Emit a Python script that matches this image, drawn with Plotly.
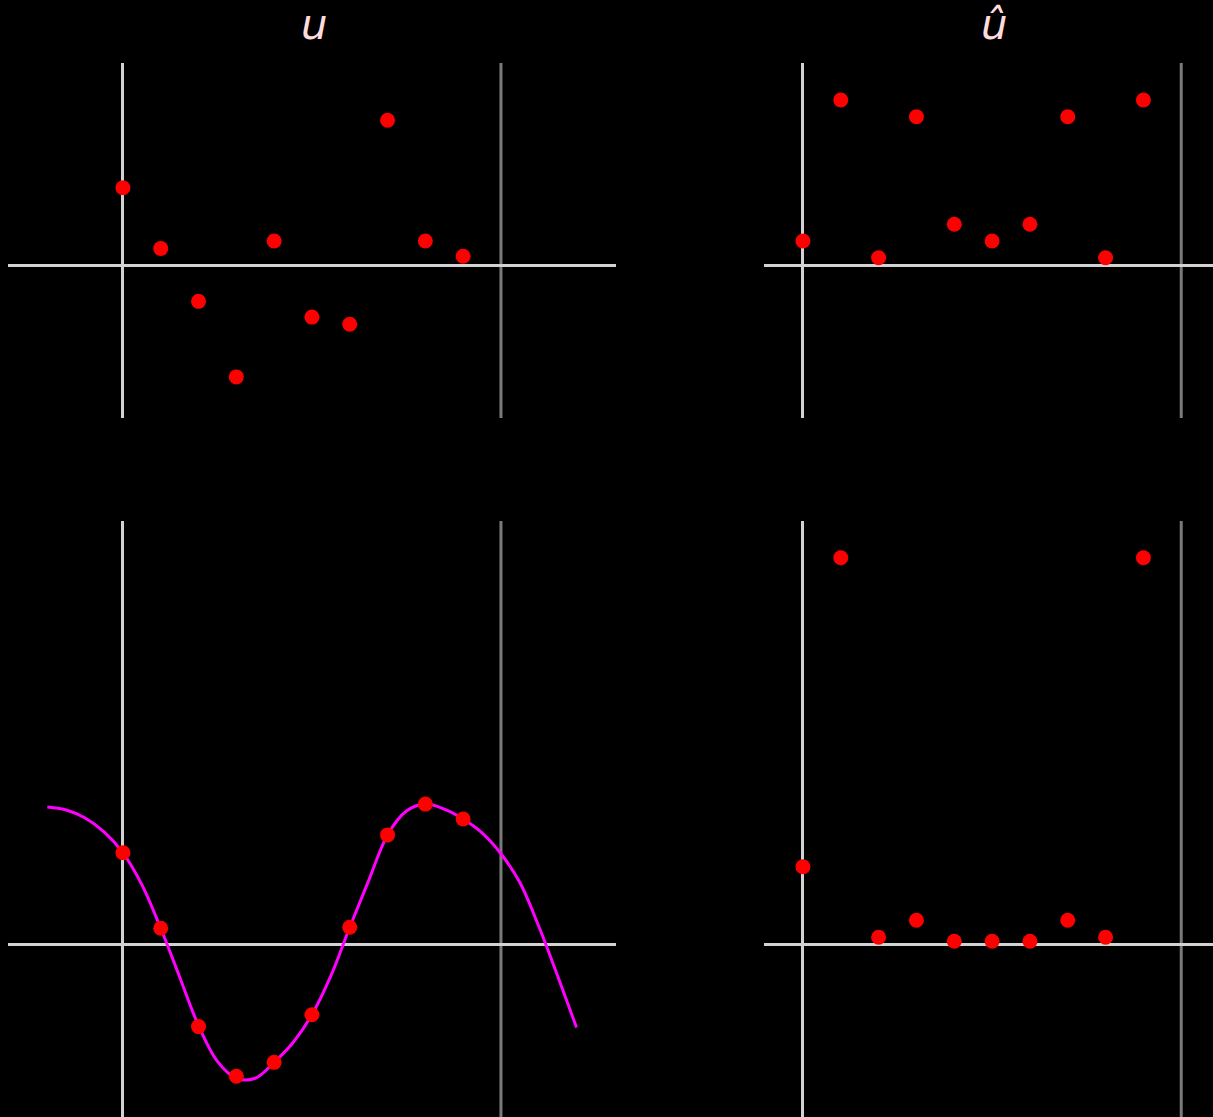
import plotly.graph_objects as go
from plotly.subplots import make_subplots

# sample index / frequency index
n = [0, 1, 2, 3, 4, 5, 6, 7, 8, 9]

# top row: samples u and |u_hat|
u_top = [1.54, 0.34, -0.70, -2.19, 0.49, -1.01, -1.15, 2.87, 0.49, 0.19]
uhat_top = [0.49, 3.27, 0.16, 2.94, 0.82, 0.49, 0.82, 2.94, 0.16, 3.27]

# bottom row: smooth samples, |u_hat| and the interpolating curve
u_bottom = [0.92, 0.16, -0.83, -1.33, -1.19, -0.71, 0.17, 1.10, 1.41, 1.26]
uhat_bottom = [0.78, 3.89, 0.07, 0.24, 0.03, 0.03, 0.03, 0.24, 0.07, 3.89]

curve_x = [-2, -1.5, -1, -0.5, 0, 0.5, 1, 1.5, 2, 2.5, 3, 3.5, 4, 4.5, 5,
           5.5, 6, 6.5, 7, 7.5, 8, 8.5, 9, 9.5, 10, 10.5, 11, 11.5, 12]
curve_y = [1.38, 1.35, 1.27, 1.13, 0.92, 0.60, 0.16, -0.33, -0.82, -1.18, -1.35,
           -1.35, -1.19, -0.99, -0.71, -0.32, 0.17, 0.64, 1.10, 1.34, 1.41, 1.36, 1.26,
           1.12, 0.91, 0.62, 0.18, -0.32, -0.84]

W, H = 1213, 1117
RED = "#ff0000"
LIGHT = "#d2d2d2"
DARK = "#7a7a7a"

fig = make_subplots(rows=2, cols=2)


def dots(x, y, row, col):
    fig.add_trace(go.Scatter(x=x, y=y, mode="markers",
                             marker=dict(size=15, color=RED, line=dict(width=0)),
                             showlegend=False), row=row, col=col)


fig.add_trace(go.Scatter(x=curve_x, y=curve_y, mode="lines",
                         line=dict(color="#ff00ff", width=3, shape="spline", smoothing=1),
                         showlegend=False), row=2, col=1)
dots(n, u_top, 1, 1)
dots(n, uhat_top, 1, 2)
dots(n, u_bottom, 2, 1)
dots(n, uhat_bottom, 2, 2)

left_dom = [8 / W, 615.5 / W]
right_dom = [764 / W, 1.0]
top_dom = [(H - 418) / H, (H - 63) / H]
bot_dom = [0.0, (H - 521) / H]

ax_style = dict(showgrid=False, showticklabels=False, ticks="", showline=False,
                zeroline=True, zerolinecolor=LIGHT, zerolinewidth=3, fixedrange=True)

fig.update_xaxes(**ax_style)
fig.update_yaxes(**ax_style)

fig.update_xaxes(domain=left_dom, range=[-3.04, 13.03], row=1, col=1)
fig.update_xaxes(domain=right_dom, range=[-1.03, 10.84], row=1, col=2)
fig.update_xaxes(domain=left_dom, range=[-3.04, 13.03], row=2, col=1)
fig.update_xaxes(domain=right_dom, range=[-1.03, 10.84], row=2, col=2)
fig.update_yaxes(domain=top_dom, range=[-3, 4], row=1)
fig.update_yaxes(domain=bot_dom, range=[-1.74, 4.26], row=2)

# period boundary line at x = 10
for xr, yr in [("x", "y"), ("x2", "y2"), ("x3", "y3"), ("x4", "y4")]:
    fig.add_shape(type="line", xref=xr, yref=yr + " domain", x0=10, x1=10, y0=0, y1=1,
                  line=dict(color=DARK, width=3), layer="below")

title_font = dict(family="DejaVu Sans", size=42, color="#ffdcdc")
fig.add_annotation(text="<i>u</i>", x=314 / W, y=1 - 24 / H, xref="paper", yref="paper",
                   xanchor="center", yanchor="middle", showarrow=False, font=title_font)
fig.add_annotation(text="<i>û</i>", x=995 / W, y=1 - 24 / H, xref="paper", yref="paper",
                   xanchor="center", yanchor="middle", showarrow=False, font=title_font)

fig.update_layout(width=W, height=H, margin=dict(l=0, r=0, t=0, b=0),
                  paper_bgcolor="black", plot_bgcolor="black")

# drop the default page margin so the figure fills the window
fig.write_html("out.html", config={"displayModeBar": False},
               post_script="document.body.style.margin='0';document.body.style.background='black';")
